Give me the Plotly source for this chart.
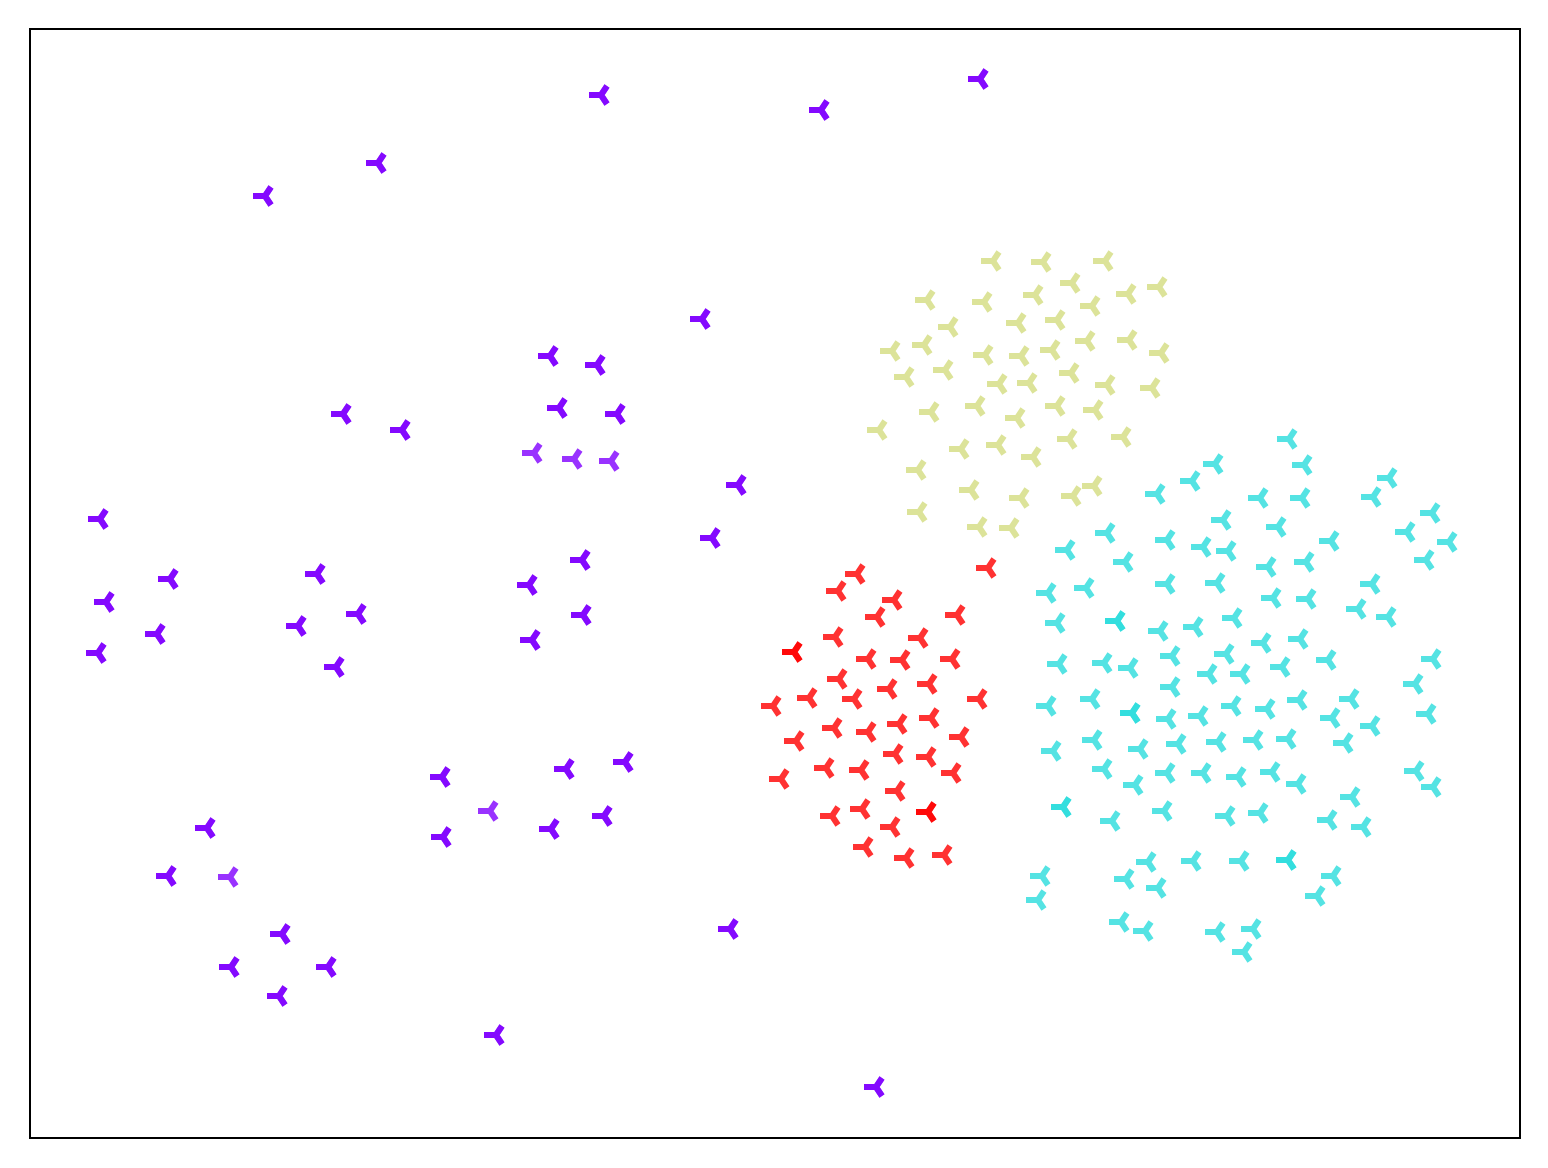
import plotly.graph_objects as go

# ---- data (x, y; y grows downward) ----
yellow_x = [993,1043,1105,1072,927,984,1035,1128,1159,1092,950,1018,1057,892,924,985,1021,1052,1087,1129,1161,906,945,999,1029,1071,1107,1152,931,977,1057,1095,1017,879,961,998,1033,1069,1123,918,971,1021,1073,1094,919,979,1011]
yellow_y = [261,262,261,283,300,302,295,294,287,306,327,323,320,351,345,355,356,350,341,340,353,377,370,384,383,373,385,388,412,406,406,410,418,430,449,445,457,439,437,470,490,498,496,486,512,527,528]
yellow_n = [1]*len(yellow_x)

red_x = [988,857,838,894,957,877,835,920,794,868,902,952,839,889,929,979,773,809,854,834,868,899,931,961,796,895,928,781,826,861,953,897,832,862,928,892,865,906,944]
red_y = [568,574,591,600,615,617,637,638,652,659,660,659,679,689,684,699,706,698,699,728,732,724,718,737,741,754,757,779,768,770,773,791,816,809,812,827,847,858,855]
red_n = [1]*len(red_x)
red_n[8] = 2
red_n[34] = 2

cyan_x = [1215,1192,1157,1223,1107,1167,1203,1228,1067,1125,1048,1086,1167,1217,1057,1117,1160,1195,1234,1059,1104,1130,1172,1226,1209,1242,1172,
          1048,1092,1132,1168,1200,1233,1053,1094,1140,1178,1218,1104,1135,1167,1203,1238,1063,1112,1164,1227,1148,1193,1241,1126,1158,1042,1038,1121,1145,1217,1244,
          1289,1304,1389,1260,1302,1373,1432,1278,1331,1407,1449,1426,1268,1306,1372,1273,1308,1358,1388,1263,1300,1328,1433,1282,1415,
          1267,1299,1351,1428,1332,1372,1255,1288,1345,1272,1298,1416,1433,1352,1260,1329,1363,1288,1333,1317,1253]
cyan_y = [464,481,494,520,533,540,547,551,550,562,593,588,584,583,623,621,631,627,618,664,663,668,656,654,674,674,687,
          706,699,713,719,716,706,751,740,749,744,742,769,785,773,773,777,807,821,811,816,862,861,861,879,888,876,900,922,931,932,952,
          439,465,478,498,498,497,513,527,541,532,542,560,567,562,584,598,599,609,617,643,639,660,659,667,684,
          709,700,699,714,718,726,740,739,743,772,784,771,787,797,813,820,827,860,876,896,929]
cyan_n = [1]*len(cyan_x)
for i, (cx, cy) in enumerate(zip(cyan_x, cyan_y)):
    if (cx, cy) in [(1117,621),(1132,713),(1063,807),(1288,860)]:
        cyan_n[i] = 2

purple_x = [100,170,106,157,98,317,358,298,336,
            207,168,230,282,231,328,279,
            702,550,597,559,617,534,574,611,738,712,582,529,583,532,
            442,566,625,490,604,551,443,730,496,
            601,821,980,378,265,343,402,876]
purple_y = [519,579,602,634,653,574,614,626,667,
            828,876,877,934,967,967,996,
            319,356,365,408,414,453,459,461,485,538,560,585,615,640,
            777,769,762,811,816,829,837,929,1035,
            95,110,79,163,196,414,430,1087]
purple_n = [2]*len(purple_x)
for i, (px, py) in enumerate(zip(purple_x, purple_y)):
    if (px, py) in [(230,877),(534,453),(574,459),(611,461),(490,811)]:
        purple_n[i] = 1

groups = [
    (purple_x, purple_y, purple_n, "rgb(128,0,255)"),
    (cyan_x, cyan_y, cyan_n, "rgb(43,221,221)"),
    (yellow_x, yellow_y, yellow_n, "rgb(212,221,128)"),
    (red_x, red_y, red_n, "rgb(255,0,0)"),
]

fig = go.Figure()
for xs, ys, ns, col in groups:
    ex, ey = [], []
    for x, y, n in zip(xs, ys, ns):
        ex += [x]*n
        ey += [y]*n
    fig.add_trace(go.Scatter(
        x=ex, y=ey, mode="markers",
        marker=dict(symbol="y-left", size=15, color=col, opacity=0.8,
                    line=dict(width=6, color=col)),
        showlegend=False, hoverinfo="skip",
    ))

axis_common = dict(showgrid=False, zeroline=False, showticklabels=False, ticks="",
                   showline=True, linecolor="black", linewidth=2, mirror=True)
# page body adds an 8px offset; figure sized to fit the window
fig.update_layout(
    width=1532, height=1152,
    margin=dict(l=23, r=21, t=22, b=23),
    paper_bgcolor="white", plot_bgcolor="white",
    xaxis=dict(range=[31, 1519], **axis_common),
    yaxis=dict(range=[1137, 30], **axis_common),
)
fig.write_html("out.html")
